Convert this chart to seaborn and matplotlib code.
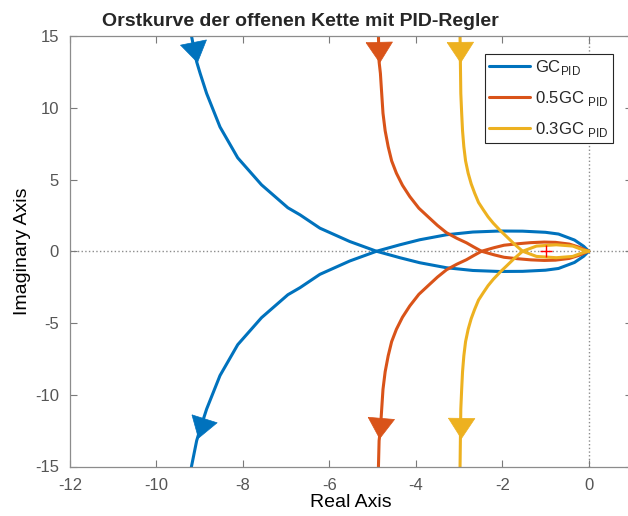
import numpy as np
import pandas as pd
import matplotlib
matplotlib.use('Agg')
import matplotlib.pyplot as plt
from matplotlib.markers import MarkerStyle
from matplotlib.transforms import Affine2D
import seaborn as sns

# one branch of each locus, from +j*inf down to the origin (the other branch is the conjugate)
gc_re = [-9.23, -9.19, -9.07, -8.99, -8.84, -8.53, -8.12, -7.57, -6.96, -6.68, -6.22, -5.53,
         -4.91, -4.37, -3.91, -3.29, -2.68, -2.06, -1.53, -1.00, -0.70, -0.33, -0.12, 0.0]
gc_im = [15.6, 15.0, 13.2, 12.4, 11.0, 8.66, 6.51, 4.63, 3.03, 2.54, 1.61, 0.68,
         0.0, -0.45, -0.80, -1.15, -1.34, -1.41, -1.40, -1.32, -1.20, -0.78, -0.35, 0.0]

gc05_re = [-4.87, -4.85, -4.82, -4.79, -4.76, -4.71, -4.64, -4.56, -4.45, -4.31, -4.14,
           -3.93, -3.68, -3.50, -3.29, -3.05, -2.83, -2.65, -2.48,
           -2.19, -1.96, -1.65, -1.34, -1.03, -0.77, -0.45, -0.22, -0.07, 0.0]
gc05_im = [15.6, 13.2, 12.4, 11.0, 9.62, 8.4, 7.29, 6.3, 5.44, 4.6, 3.81,
           3.0, 2.30, 1.80, 1.29, 0.90, 0.59, 0.28, 0.0,
           -0.25, -0.42, -0.52, -0.60, -0.64, -0.62, -0.50, -0.28, -0.08, 0.0]

gc03_re = [-2.98, -2.97, -2.96, -2.94, -2.92, -2.89, -2.85, -2.79, -2.72, -2.64, -2.55,
           -2.44, -2.33, -2.21, -2.05, -1.90, -1.74, -1.53, -1.21, -0.75, -0.37, -0.14, 0.0]
gc03_im = [15.6, 13.2, 11.0, 9.62, 8.4, 7.29, 6.3, 5.44, 4.7, 4.05, 3.4,
           2.89, 2.4, 1.96, 1.45, 1.02, 0.55, 0.0, -0.36, -0.45, -0.36, -0.10, 0.0]

labels = [r'GC$_{\mathrm{PID}}$', r'0.5GC $_{\mathrm{PID}}$', r'0.3GC $_{\mathrm{PID}}$']
colors = ['#0072BD', '#D95319', '#EDB120']
x_ticks = list(range(-12, 1, 2))
y_ticks = list(range(-15, 16, 5))
critical_re, critical_im = -1.0, 0.0
arrow_im_top, arrow_im_bottom = 13.9, -12.3

curves = list(zip(labels, [gc_re, gc05_re, gc03_re], [gc_im, gc05_im, gc03_im]))

rows = []
for lab, re, im in curves:
    for k, (r, i) in enumerate(zip(re, im)):
        rows.append((lab, lab + ' +', k, r, i))
    for k, (r, i) in enumerate(zip(re[::-1], im[::-1])):
        rows.append((lab, lab + ' -', k, r, -i))
df = pd.DataFrame(rows, columns=['curve', 'branch', 'k', 're', 'im'])

sns.set_theme(style='white')
plt.rcParams['font.family'] = ['Liberation Sans', 'DejaVu Sans']
plt.rcParams['mathtext.fontset'] = 'custom'
plt.rcParams['mathtext.rm'] = 'Liberation Sans'
plt.rcParams['axes.unicode_minus'] = False

fig = plt.figure(figsize=(6.28, 5.16), dpi=100)
ax = fig.add_axes([70 / 628, 1 - 466.5 / 516, 562 / 628, 430.5 / 516])

ax.axhline(0, color='#8c8c8c', ls=':', lw=1.0, zorder=0)
ax.axvline(0, color='#8c8c8c', ls=':', lw=1.0, zorder=0)

sns.lineplot(data=df, x='re', y='im', hue='curve', units='branch', estimator=None,
             sort=False, palette=colors, hue_order=labels, lw=2.2, ax=ax)

ax.set_xlim(-12, 1)
ax.set_ylim(-15, 15)

# direction arrows on each branch (filled triangle, pointing down before rotation)
tri = [(-1.3, 1.0), (1.3, 1.0), (0.0, -1.0), (-1.3, 1.0)]
for (lab, re, im), col in zip(curves, colors):
    top_re = np.array(re[:6])[::-1]
    top_im = np.array(im[:6])[::-1]
    for y0, sgn in [(arrow_im_top, 1), (arrow_im_bottom, -1)]:
        ya = abs(y0)
        xa = np.interp(ya, top_im, top_re)
        x1 = np.interp(ya + 0.4, top_im, top_re)
        x2 = np.interp(ya - 0.4, top_im, top_re)
        p1 = ax.transData.transform((x1, sgn * (ya + 0.4)))
        p2 = ax.transData.transform((x2, sgn * (ya - 0.4)))
        if sgn < 0:
            p1, p2 = p2, p1
        ang = np.degrees(np.arctan2(p2[1] - p1[1], p2[0] - p1[0]))
        mk = MarkerStyle(tri, transform=Affine2D().rotate_deg(ang + 90))
        ax.plot([xa], [sgn * ya], marker=mk, ms=19, color=col, mec=col, mew=0.5,
                ls='none', zorder=5)

ax.plot([critical_re], [critical_im], marker='+', color='red', ms=8, mew=1.0, ls='none', zorder=6)

ax.set_xticks(x_ticks)
ax.set_yticks(y_ticks)
ax.tick_params(direction='in', length=5, width=0.8, colors='#7a7a7a', labelcolor='#555555',
               labelsize=12, pad=8, top=True, right=True, bottom=True, left=True)
for sp in ax.spines.values():
    sp.set_color('#8c8c8c')
    sp.set_linewidth(0.9)

ax.set_xlabel('Real Axis', fontsize=14, color='black', labelpad=1)
ax.set_ylabel('Imaginary Axis', fontsize=14, color='black', labelpad=3)
ax.set_title('Orstkurve der offenen Kette mit PID-Regler', fontsize=14, fontweight='bold',
             x=0.41, pad=7)

handles, labs = ax.get_legend_handles_labels()
leg = ax.legend(handles, labs, loc='upper right', bbox_to_anchor=(0.966, 0.958),
                borderaxespad=0, fancybox=False, framealpha=1, edgecolor='#262626',
                fontsize=12, handlelength=2.45, labelspacing=0.7, borderpad=0.25,
                handletextpad=0.3)
leg.get_frame().set_linewidth(0.8)

fig.savefig('out.png', dpi=100)
